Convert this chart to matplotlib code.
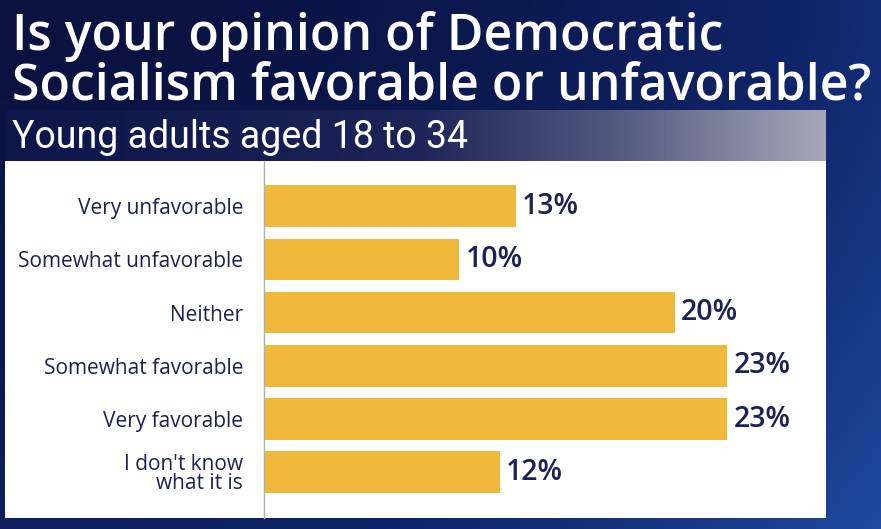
import matplotlib.pyplot as plt
import numpy as np
from matplotlib.colors import LinearSegmentedColormap

categorias = ["Very unfavorable", "Somewhat unfavorable", "Neither",
              "Somewhat favorable", "Very favorable", "I don't know\nwhat it is"]
valores = [12.5, 9.7, 20.4, 23.0, 23.0, 11.7]
etiquetas = ["13%", "10%", "20%", "23%", "23%", "12%"]

titulo = "Is your opinion of Democratic\nSocialism favorable or unfavorable?"
subtitulo = "Young adults aged 18 to 34"

W, H = 881, 529
navy = "#1b2155"
oro = "#f0b93c"


def caja(x0, y0, x1, y1):
    # pixeles (origen arriba a la izquierda) -> fraccion de figura
    return [x0 / W, 1 - y1 / H, (x1 - x0) / W, (y1 - y0) / H]


fig = plt.figure(figsize=(W / 100, H / 100), dpi=100)

# fondo azul oscuro con degradado
fondo = fig.add_axes([0, 0, 1, 1])
gx = np.linspace(0, 1, 300)
gy = np.linspace(0, 1, 200)
X, Y = np.meshgrid(gx, gy)
grad = 0.55 * X ** 2 + 0.35 * Y ** 1.5
cmap_fondo = LinearSegmentedColormap.from_list("fondo", ["#0a1240", "#0f2468", "#1f4a9e"])
fondo.imshow(grad, cmap=cmap_fondo, aspect="auto", extent=[0, 1, 0, 1], origin="upper", vmin=0, vmax=0.9)
fondo.set_xlim(0, 1)
fondo.set_ylim(0, 1)
fondo.axis("off")

# banda del subtitulo con degradado hacia gris
banda = fig.add_axes(caja(5, 110, 826, 161))
bx = np.linspace(0, 1, 400).reshape(1, -1)
cmap_banda = LinearSegmentedColormap.from_list(
    "banda", [(0, "#0c1648"), (0.5, "#1c2458"), (0.75, "#545a80"), (1, "#a6a7b8")])
banda.imshow(bx, cmap=cmap_banda, aspect="auto", extent=[0, 1, 0, 1])
banda.axis("off")
banda.text(0.008, 0.47, subtitulo, color="white", fontsize=27, family="Roboto",
           va="center", ha="left", transform=banda.transAxes)

# panel blanco
panel = fig.add_axes(caja(5, 161, 826, 518))
panel.set_facecolor("white")
panel.set_xticks([])
panel.set_yticks([])
for s in panel.spines.values():
    s.set_visible(False)

fig.text(12 / W, 1 - 61 / H, titulo, color="white", fontsize=36, family="Open Sans",
         fontweight="semibold", va="center", ha="left", linespacing=0.98)

ax = fig.add_axes(caja(264, 161, 826, 518))
ax.patch.set_alpha(0)
y = np.arange(len(categorias))
ax.barh(y, valores, height=0.78, color=oro)
for yi, v, t in zip(y, valores, etiquetas):
    ax.text(v + 0.3, yi, t, va="center", ha="left", color=navy, fontsize=20.5,
            family="Open Sans", fontweight="semibold")

ax.set_xlim(0, 27.9)
ax.set_ylim(5.86, -0.85)
ax.set_yticks(y)
ax.set_yticklabels(categorias, color=navy, fontsize=15, family="Open Sans",
                   linespacing=0.9)
ax.tick_params(axis="y", length=0, pad=15)
ax.set_xticks([])
for s in ["top", "right", "bottom"]:
    ax.spines[s].set_visible(False)
ax.spines["left"].set_color("#b0b0b0")
ax.spines["left"].set_linewidth(1)

fig.savefig("out.png", dpi=100)
